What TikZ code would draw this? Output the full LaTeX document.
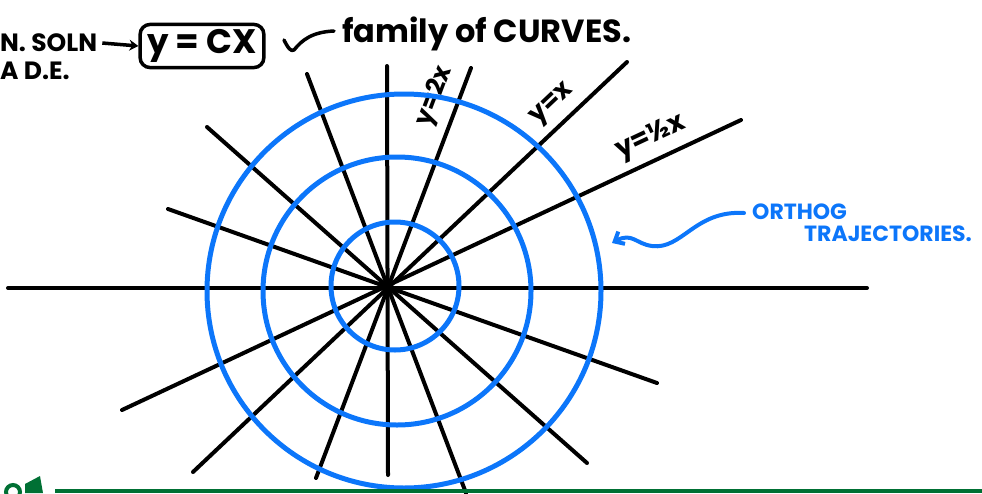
\documentclass[tikz,border=0pt]{standalone}
\usepackage{fontspec}
\setmainfont{Poppins}
\usepackage{tikz}
\usetikzlibrary{arrows.meta,calc}
\definecolor{inkblue}{RGB}{12,118,250}
\definecolor{inkgreen}{RGB}{0,112,52}

\begin{document}
\begin{tikzpicture}[x=1pt,y=-1pt,
    ray/.style={line width=4pt,line cap=round},
    orth/.style={inkblue,line width=5pt},
    hand/.style={inner sep=0pt,font=\bfseries\fontsize{#1}{#1}\selectfont},
    hand/.default=24]
  \useasboundingbox (0,0) rectangle (982,493);
  % the family y = Cx
  \foreach \xa/\ya/\xb/\yb in {8/288/867/288,168/209/657/383,207/127/587/463,
      307/74/466/493,387/66/388/475}
    {\draw[ray] (\xa,\ya)--(\xb,\yb);}
  \draw[ray] (316,478)--(471,68) node[hand=25,sloped,above=9pt,pos=.91] (l2x) {y=2x};
  \draw[ray] (193,472)--(627,62) node[hand=26,sloped,above=7pt,pos=.86] (l1x) {y=x};
  \draw[ray] (122,410)--(741,120) node[hand=27,sloped,above=7pt,pos=.87] (lhx) {y=½x};
  % orthogonal trajectories
  \draw[orth] (395,286) circle[radius=64];
  \draw[orth] (397,291) circle[radius=134];
  \draw[orth] (404,291) circle[radius=197];
  % heading
  \node[hand=25,anchor=west] (soln) at (0,43) {N. SOLN};
  \node[hand=25,anchor=west] (ade) at (0,71) {A D.E.};
  \node[hand=34,draw,line width=3.5pt,rounded corners=10pt,inner xsep=7pt,inner ysep=5pt] (gen) at (202,46) {y = CX};
  \draw[line width=3.5pt,-{Stealth[length=9pt,width=11pt]}] (soln.east)++(5,0) -- (gen.west);
  \draw[line width=3.5pt,line cap=round,line join=round] (284,40) .. controls (288,48) and (291,52) .. (294,50)
      .. controls (302,40) and (312,32) .. (334,31);
  \node[hand=32,anchor=west] (fam) at (342,34) {family of CURVES.};
  % blue note
  \node[hand=22,text=inkblue,anchor=west] (orthog) at (752,212) {ORTHOG};
  \node[hand=22,text=inkblue,anchor=west] (traj) at (804,234) {TRAJECTORIES.};
  \draw[inkblue,line width=4pt,line cap=round,-{Straight Barb[length=8pt,width=14pt]}]
    (orthog.west)++(-8,1) .. controls (695,210) and (682,250) .. (652,246)
      .. controls (636,244) and (632,232) .. (612,243);
  % bottom rule
  \draw[inkgreen,line width=3.5pt] (55,491)--(982,491);
  \draw[inkgreen,line width=4pt] (13,492) circle[radius=7];
  \fill[inkgreen] (25,484)--(40,476)--(43,493)--(25,493)--cycle;
\end{tikzpicture}
\end{document}
